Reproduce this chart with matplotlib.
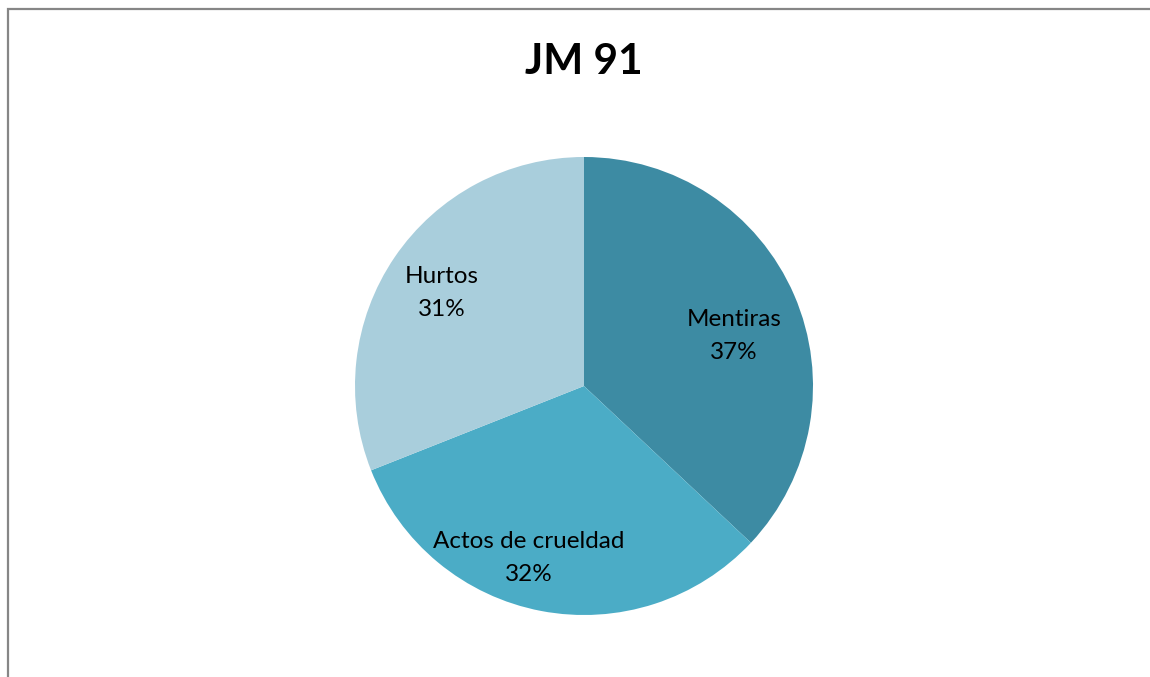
import matplotlib
matplotlib.use("Agg")
import matplotlib.pyplot as plt
from matplotlib.patches import Rectangle

categories = ["Mentiras", "Actos de crueldad", "Hurtos"]
values = [37, 32, 31]
colors = ["#3D8BA3", "#4BACC6", "#A9CEDC"]
title = "JM 91"

label_pos = [(0.655, 0.218), (-0.240, -0.751), (-0.620, 0.406)]

plt.rcParams['font.family'] = ['Lato', 'DejaVu Sans']

W, H = 1150, 677
fig = plt.figure(figsize=(W / 100, H / 100), dpi=100)
fig.patch.set_facecolor("white")

cx, cy, r = 584, 386, 229
ax = fig.add_axes([(cx - r) / W, (H - cy - r) / H, 2 * r / W, 2 * r / H])
wedges, _ = ax.pie(values, colors=colors, startangle=90, counterclock=False,
                   radius=1.0, wedgeprops=dict(linewidth=0))
ax.set_xlim(-1, 1)
ax.set_ylim(-1, 1)
ax.set_aspect("equal")
ax.axis("off")

total = sum(values)
for cat, v, (x, y) in zip(categories, values, label_pos):
    ax.text(x, y, f"{cat}\n{round(100 * v / total)}%", ha="center", va="center",
            fontsize=17.5, color="black", linespacing=1.75)

fig.text(584 / W, 1 - 62 / H, title, ha="center", va="center",
         fontsize=30.5, fontweight="bold", color="black")

# chart frame (only top and left visible)
fig.add_artist(Rectangle((7.5 / W, -0.1), 1.2, (H - 8.5) / H + 0.1,
                         transform=fig.transFigure, fill=False,
                         edgecolor="#868686", linewidth=1.6))

fig.savefig("out.png", dpi=100, facecolor="white")
